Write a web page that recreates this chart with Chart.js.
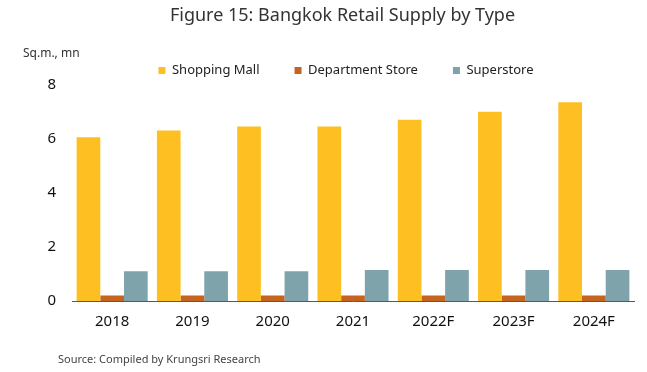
<!DOCTYPE html>
<html>
<head>
<meta charset="utf-8">
<script src="https://cdn.jsdelivr.net/npm/chart.js@4.4.1/dist/chart.umd.min.js"></script>
<style>
  html, body { margin: 0; padding: 0; background: #fff; }
  #wrap { position: relative; width: 647px; height: 372px; font-family: "Noto Sans", sans-serif; }
  #unit { position: absolute; left: 23px; top: 44px; font-size: 12px; color: #333; }
  #source { position: absolute; left: 58px; top: 351px; font-size: 11px; color: #444; }
</style>
</head>
<body>
<div id="wrap">
  <canvas id="chart" width="647" height="372"></canvas>
  <div id="unit">Sq.m., mn</div>
  <div id="source">Source: Compiled by Krungsri Research</div>
</div>
<script>
// data
const years = ['2018', '2019', '2020', '2021', '2022F', '2023F', '2024F'];
const shoppingMall = [6.05, 6.3, 6.45, 6.45, 6.7, 7.0, 7.35];
const departmentStore = [0.2, 0.2, 0.2, 0.2, 0.2, 0.2, 0.2];
const superstore = [1.1, 1.1, 1.1, 1.15, 1.15, 1.15, 1.15];
const yTicks = [0, 2, 4, 6, 8];

const FONT = '"Noto Sans", sans-serif';

// title and legend sit a bit right of the canvas centre in the reference
const headPlace = {
  id: 'headPlace',
  afterLayout(chart) {
    const t = chart.titleBlock;
    if (t) { const w = t.right - t.left; t.left = 342.5 - w / 2; t.right = t.left + w; }
    const lg = chart.legend;
    if (lg) {
      const w = lg.width, h = lg.height;
      lg.left = 346 - w / 2; lg.right = lg.left + w;
      lg.top = 29; lg.bottom = lg.top + h;
    }
  }
};

new Chart(document.getElementById('chart'), {
  type: 'bar',
  data: {
    labels: years,
    datasets: [
      { label: 'Shopping Mall', data: shoppingMall, backgroundColor: '#FEBF22' },
      { label: 'Department Store', data: departmentStore, backgroundColor: '#C6641F' },
      { label: 'Superstore', data: superstore, backgroundColor: '#7FA3AB' }
    ]
  },
  options: {
    responsive: false, animation: false,
    layout: { padding: { left: 38, right: 13, top: 0, bottom: 41 } },
    datasets: { bar: { barPercentage: 1, categoryPercentage: 0.885, borderWidth: 0 } },
    scales: {
      x: {
        afterFit: s => { s.height = 30; },
        grid: { display: false, drawTicks: false },
        border: { display: true, color: '#595959', width: 1 },
        ticks: { color: '#111', padding: 12, font: { family: FONT, size: 15 } }
      },
      y: {
        min: yTicks[0], max: yTicks[yTicks.length - 1],
        afterFit: s => { s.width = 34; },
        grid: { display: false, drawTicks: false },
        border: { display: false },
        ticks: { stepSize: yTicks[1] - yTicks[0], color: '#111', padding: 16, font: { family: FONT, size: 15 } }
      }
    },
    plugins: {
      title: {
        display: true,
        text: 'Figure 15: Bangkok Retail Supply by Type',
        color: '#333',
        font: { family: FONT, size: 18, weight: 'normal' },
        padding: { top: 5, bottom: 0 }
      },
      legend: {
        position: 'top',
        maxHeight: 62.4,
        labels: { boxWidth: 7, boxHeight: 7, padding: 35, color: '#222', font: { family: FONT, size: 13 } }
      },
      tooltip: { enabled: false }
    }
  },
  plugins: [headPlace]
});
</script>
</body>
</html>
